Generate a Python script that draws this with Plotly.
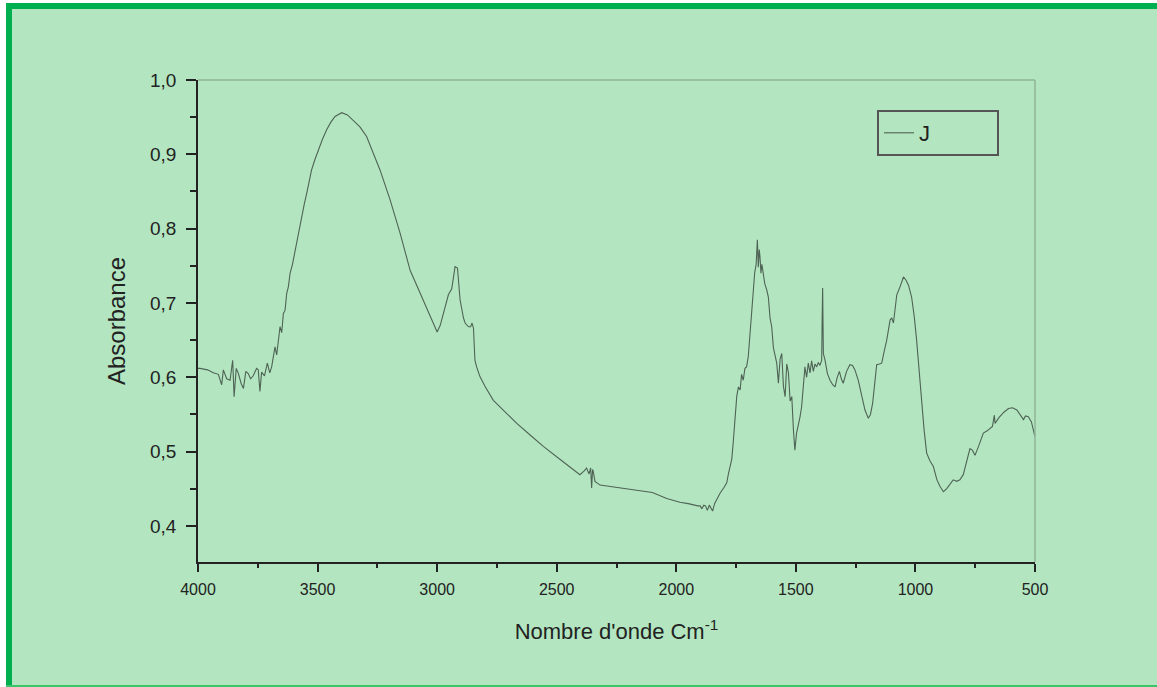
import plotly.graph_objects as go

# FTIR spectrum "J"
wavenumber = [
    4000, 3992, 3960, 3936, 3915, 3901, 3894, 3880, 3866, 3855, 3849, 3840, 3831,
    3820, 3810, 3800, 3790, 3780, 3769, 3755, 3748, 3741, 3734, 3722, 3710, 3700,
    3692, 3685, 3678, 3671, 3664, 3657, 3650, 3643, 3636, 3629, 3622, 3615, 3605,
    3594, 3580, 3566, 3555, 3545, 3535, 3525, 3511, 3497, 3480, 3462, 3445, 3427,
    3413, 3399, 3375, 3351, 3323, 3295, 3267, 3239, 3197, 3155, 3113, 3072, 3030,
    3000, 2987, 2974, 2960, 2953, 2939, 2932, 2925, 2915, 2904, 2890, 2883, 2869,
    2860, 2854, 2848, 2842, 2835, 2821, 2800, 2765, 2720, 2667, 2610, 2556, 2480,
    2403, 2385, 2375, 2365, 2358, 2354, 2350, 2347, 2340, 2319, 2250, 2152, 2100,
    2040, 1985, 1950, 1929, 1910, 1900, 1893, 1885, 1878, 1870, 1862, 1855, 1848,
    1840, 1830, 1817, 1800, 1789, 1782, 1775, 1768, 1762, 1754, 1747, 1740, 1733,
    1727, 1720, 1713, 1706, 1699, 1692, 1685, 1678, 1672, 1666, 1661, 1657, 1653,
    1650, 1646, 1642, 1636, 1630, 1622, 1615, 1608, 1601, 1594, 1587, 1580, 1576,
    1573, 1566, 1559, 1552, 1545, 1538, 1531, 1524, 1517, 1510, 1504, 1497, 1490,
    1483, 1476, 1469, 1462, 1455, 1448, 1441, 1434, 1427, 1420, 1413, 1406, 1399,
    1392, 1390, 1388, 1385, 1378, 1368, 1357, 1346, 1336, 1327, 1318, 1310, 1302,
    1288, 1274, 1263, 1253, 1239, 1225, 1211, 1197, 1188, 1179, 1170, 1162, 1150,
    1141, 1130, 1120, 1106, 1099, 1092, 1085, 1078, 1064, 1050, 1040, 1029, 1016,
    1005, 995, 985, 974, 964, 953, 940, 925, 910, 897, 883, 870, 855, 842, 828, 814,
    800, 786, 772, 762, 751, 735, 716, 700, 688, 678, 670, 667, 650, 630, 611, 594,
    576, 562, 548, 540, 528, 515, 500,
]
absorbance = [
    0.612, 0.612, 0.610, 0.606, 0.604, 0.590, 0.610, 0.598, 0.596, 0.623, 0.574, 0.612, 0.605,
    0.592, 0.585, 0.608, 0.605, 0.598, 0.602, 0.612, 0.610, 0.581, 0.607, 0.602, 0.619, 0.606,
    0.614, 0.628, 0.641, 0.630, 0.652, 0.668, 0.660, 0.686, 0.690, 0.713, 0.722, 0.740, 0.752,
    0.771, 0.794, 0.816, 0.834, 0.848, 0.864, 0.879, 0.893, 0.906, 0.920, 0.933, 0.943, 0.951,
    0.954, 0.956, 0.953, 0.946, 0.937, 0.924, 0.901, 0.879, 0.839, 0.794, 0.744, 0.713, 0.682,
    0.661, 0.670, 0.686, 0.703, 0.711, 0.719, 0.736, 0.749, 0.747, 0.704, 0.680, 0.673, 0.668,
    0.668, 0.673, 0.666, 0.623, 0.614, 0.601, 0.588, 0.569, 0.555, 0.538, 0.522, 0.507, 0.488,
    0.469, 0.474, 0.478, 0.470, 0.478, 0.451, 0.476, 0.473, 0.460, 0.455, 0.452, 0.448, 0.445,
    0.437, 0.432, 0.430, 0.428, 0.427, 0.427, 0.423, 0.428, 0.427, 0.421, 0.428, 0.424, 0.420,
    0.430, 0.436, 0.444, 0.452, 0.458, 0.470, 0.479, 0.490, 0.512, 0.547, 0.575, 0.587, 0.583,
    0.604, 0.596, 0.612, 0.614, 0.628, 0.659, 0.682, 0.717, 0.741, 0.752, 0.785, 0.748, 0.772,
    0.762, 0.740, 0.752, 0.735, 0.726, 0.718, 0.708, 0.680, 0.668, 0.640, 0.631, 0.619, 0.604,
    0.592, 0.624, 0.632, 0.588, 0.574, 0.618, 0.606, 0.568, 0.574, 0.528, 0.502, 0.525, 0.534,
    0.546, 0.560, 0.585, 0.614, 0.600, 0.619, 0.606, 0.622, 0.608, 0.618, 0.614, 0.620, 0.616,
    0.623, 0.680, 0.720, 0.632, 0.623, 0.605, 0.596, 0.590, 0.587, 0.600, 0.608, 0.598, 0.592,
    0.608, 0.617, 0.616, 0.610, 0.596, 0.574, 0.556, 0.545, 0.550, 0.565, 0.596, 0.617, 0.618,
    0.619, 0.636, 0.650, 0.677, 0.680, 0.673, 0.690, 0.711, 0.722, 0.735, 0.731, 0.724, 0.708,
    0.682, 0.650, 0.610, 0.570, 0.530, 0.498, 0.488, 0.480, 0.462, 0.453, 0.446, 0.450, 0.457,
    0.462, 0.460, 0.462, 0.469, 0.486, 0.504, 0.502, 0.495, 0.508, 0.525, 0.528, 0.531, 0.534,
    0.549, 0.538, 0.546, 0.553, 0.558, 0.559, 0.556, 0.550, 0.543, 0.548, 0.547, 0.540, 0.520,
]

bg = "#b3e6c0"
border = "#00b050"
ink = "#222222"
font_name = "Liberation Sans, Arial"

fig = go.Figure()

fig.add_trace(go.Scatter(
    x=wavenumber, y=absorbance,
    mode="lines",
    name="J",
    line=dict(color="#4f6355", width=1.1),
))

# frame around the picture (paper coords: plot area is 198..1035 x 80..562 px)
W, H = 837.0, 482.0
def px(v):
    return (v - 198) / W
def py(v):
    return (562 - v) / H

fig.add_shape(type="rect", xref="paper", yref="paper",
              x0=px(0), x1=px(6), y0=py(687), y1=py(0),
              fillcolor="white", line_width=0, layer="below")
fig.add_shape(type="rect", xref="paper", yref="paper",
              x0=px(0), x1=px(1157), y0=py(3), y1=py(0),
              fillcolor="white", line_width=0, layer="below")
fig.add_shape(type="rect", xref="paper", yref="paper",
              x0=px(6), x1=px(12), y0=py(687), y1=py(3),
              fillcolor=border, line_width=0, layer="below")
fig.add_shape(type="rect", xref="paper", yref="paper",
              x0=px(6), x1=px(1157), y0=py(9), y1=py(3),
              fillcolor=border, line_width=0, layer="below")
fig.add_shape(type="rect", xref="paper", yref="paper",
              x0=px(6), x1=px(1157), y0=py(687), y1=py(685),
              fillcolor="#3cc46a", line_width=0, layer="below")

# grey top and right frame lines of the plot box
fig.add_shape(type="line", xref="paper", yref="paper", x0=0, x1=1, y0=1, y1=1,
              line=dict(color="#8fb59a", width=1.5))
fig.add_shape(type="line", xref="paper", yref="paper", x0=1, x1=1, y0=0, y1=1,
              line=dict(color="#8fb59a", width=1.5))

fig.update_layout(
    width=1157, height=687,
    margin=dict(l=198, r=122, t=80, b=125),
    paper_bgcolor=bg,
    plot_bgcolor=bg,
    separators=", ",
    showlegend=True,
    legend=dict(
        x=px(877), y=py(110), xanchor="left", yanchor="top",
        orientation="h", entrywidth=73,
        bgcolor="rgba(0,0,0,0)",
        bordercolor="#555555", borderwidth=2,
        font=dict(family=font_name, size=22, color=ink),
    ),
    xaxis=dict(
        range=[4000, 500],
        tickmode="linear", tick0=500, dtick=500,
        ticks="outside", ticklen=8, tickwidth=1.5, tickcolor=ink,
        minor=dict(ticks="outside", dtick=250, ticklen=4, tickwidth=1.5, tickcolor=ink),
        showline=True, linecolor=ink, linewidth=1.5,
        showgrid=False, zeroline=False,
        tickfont=dict(family=font_name, size=16, color=ink),
        ticklabelstandoff=4,
        title=dict(text="Nombre d'onde Cm<sup>-1</sup>",
                   font=dict(family=font_name, size=22, color=ink),
                   standoff=27),
    ),
    yaxis=dict(
        range=[0.3515, 1.0],
        tickmode="linear", tick0=0.4, dtick=0.1, tickformat=".1f",
        ticks="outside", ticklen=10, tickwidth=1.5, tickcolor=ink,
        minor=dict(ticks="outside", dtick=0.05, ticklen=6, tickwidth=1.5, tickcolor=ink),
        showline=True, linecolor=ink, linewidth=1.5,
        showgrid=False, zeroline=False,
        tickfont=dict(family=font_name, size=19, color=ink),
        ticklabelstandoff=6,
        title=dict(text="Absorbance",
                   font=dict(family=font_name, size=24, color=ink),
                   standoff=18),
    ),
)

fig.write_html("out.html", config={"displayModeBar": False},
               post_script="document.body.style.margin='0';")
